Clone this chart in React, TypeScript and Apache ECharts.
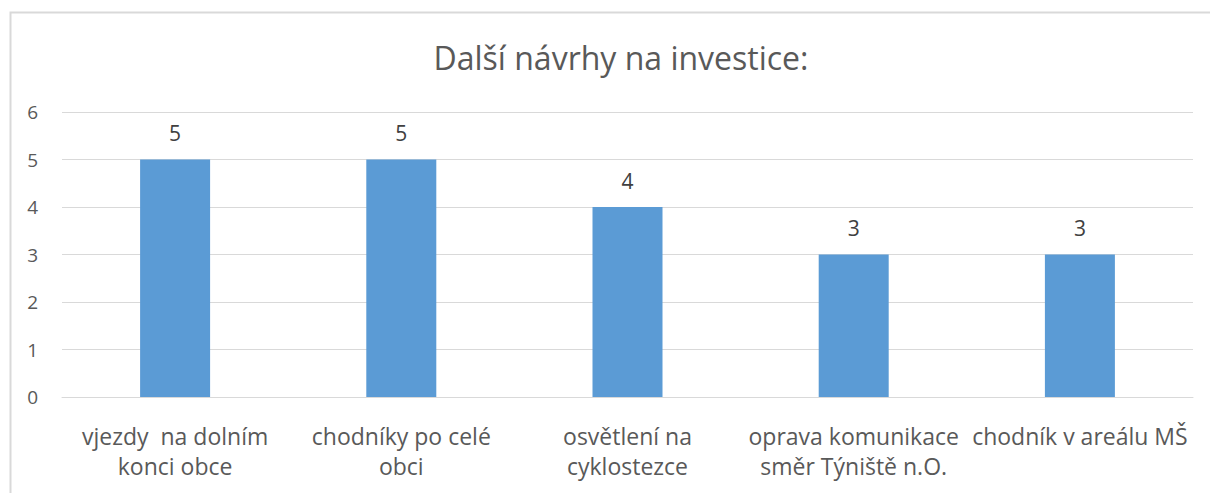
import React, { useEffect, useRef } from "react";
import * as echarts from "echarts";

const categories = [
  "vjezdy  na dolním\nkonci obce",
  "chodníky po celé\nobci",
  "osvětlení na\ncyklostezce",
  "oprava komunikace\nsměr Týniště n.O.",
  "chodník v areálu MŠ",
];
const values = [5, 5, 4, 3, 3];
const titleText = "Další návrhy na investice:";

const FONT = "'Open Sans', sans-serif";

export default function App() {
  const ref = useRef<HTMLDivElement>(null);
  useEffect(() => {
    if (!ref.current) return;
    const chart = echarts.init(ref.current, undefined, { renderer: "svg" });
    chart.setOption({
      animation: false,
      backgroundColor: "#ffffff",
      textStyle: { fontFamily: FONT },
      title: {
        text: titleText,
        left: 616,
        top: 36,
        textAlign: "center",
        textStyle: { fontFamily: FONT, fontSize: 32, fontWeight: "normal", color: "#595959" },
      },
      graphic: [
        {
          type: "rect",
          shape: { x: 10.5, y: 12.5, width: 1220, height: 500 },
          style: { fill: "none", stroke: "#d9d9d9", lineWidth: 2 },
          silent: true,
        },
      ],
      grid: { left: 62, right: 17, top: 112, bottom: 96, containLabel: false },
      xAxis: {
        type: "category",
        data: categories,
        axisLine: { show: true, lineStyle: { color: "#d9d9d9" } },
        axisTick: { show: false },
        axisLabel: {
          color: "#595959",
          fontFamily: FONT,
          fontSize: 23,
          lineHeight: 30,
          margin: 24,
          interval: 0,
        },
      },
      yAxis: {
        type: "value",
        min: 0,
        max: 6,
        interval: 1,
        axisLine: { show: false },
        axisTick: { show: false },
        splitLine: { lineStyle: { color: "#d9d9d9", width: 1 } },
        axisLabel: { color: "#595959", fontFamily: FONT, fontSize: 19, margin: 24 },
      },
      series: [
        {
          type: "bar",
          data: values,
          barWidth: 70,
          itemStyle: { color: "#5b9bd5" },
          label: {
            show: true,
            position: "top",
            distance: 16,
            color: "#404040",
            fontFamily: FONT,
            fontSize: 21,
          },
        },
      ],
    });
    return () => chart.dispose();
  }, []);
  return (
    <div
      ref={ref}
      style={{ position: "fixed", left: 0, top: 0, width: 1210, height: 493 }}
    />
  );
}
